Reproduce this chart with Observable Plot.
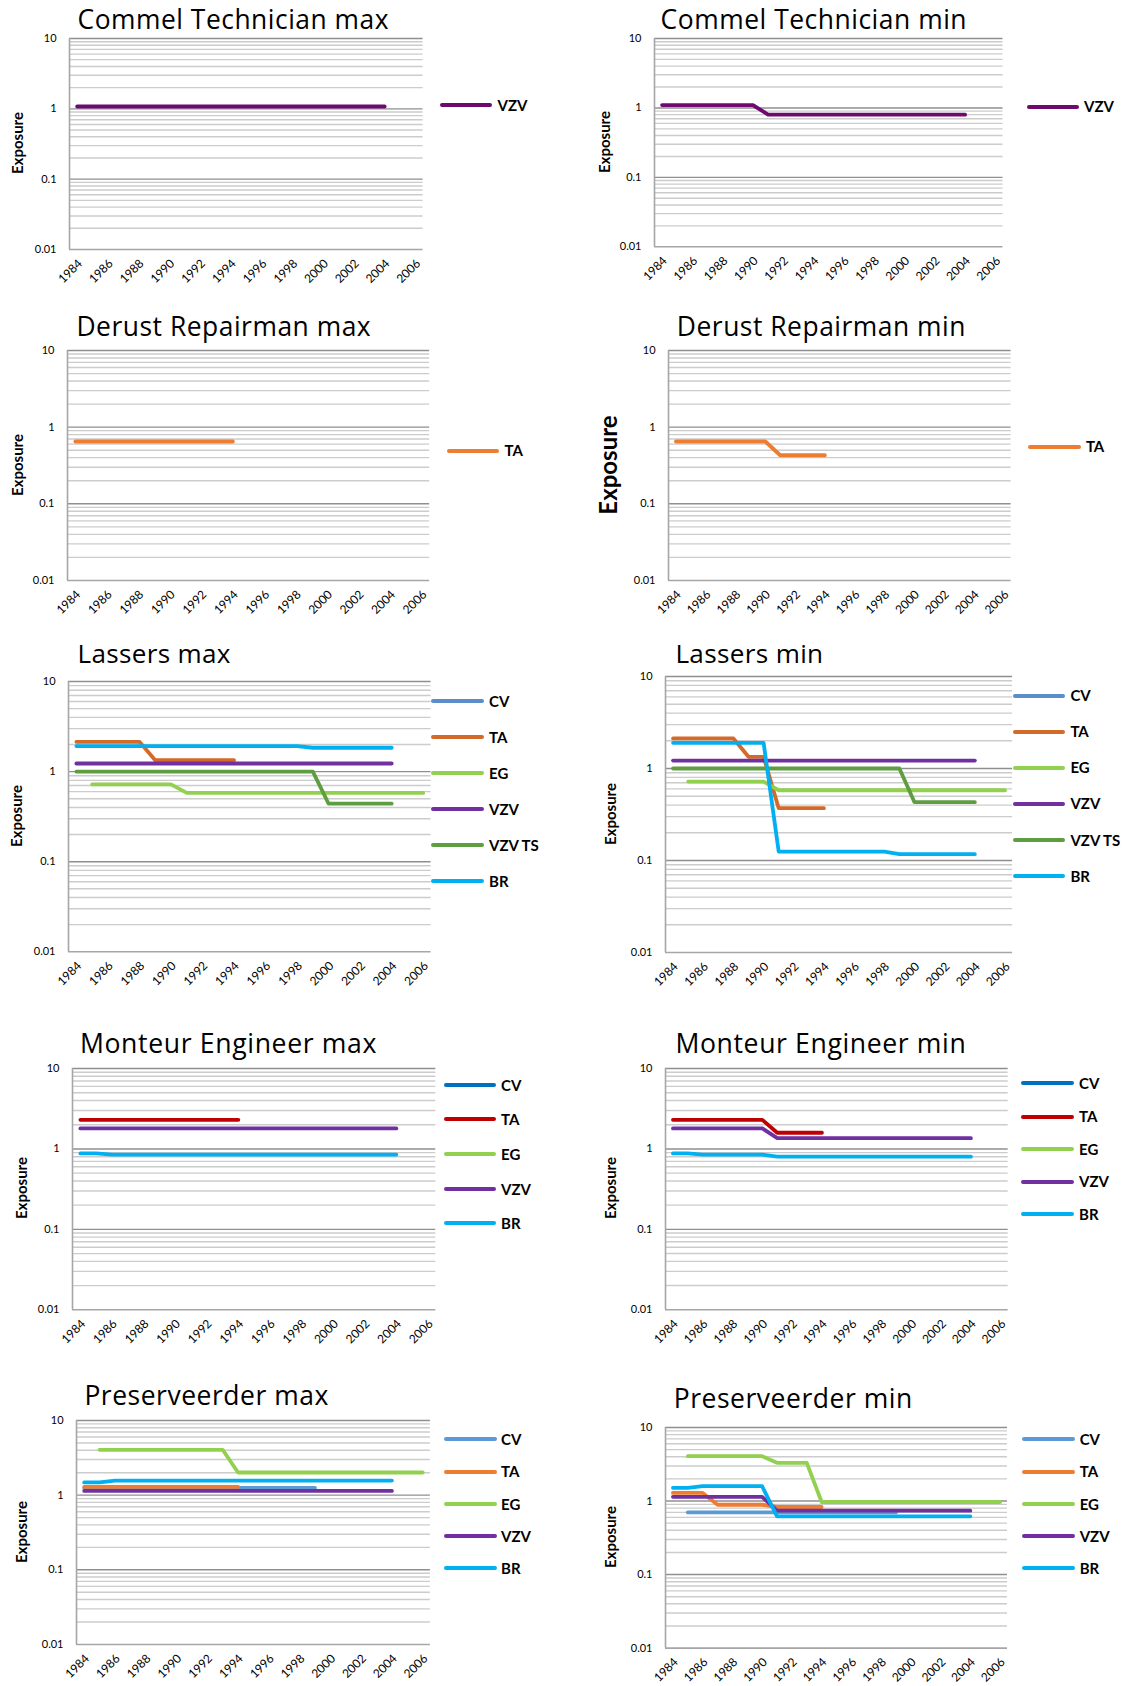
<!DOCTYPE html>
<html>
<head>
<meta charset="utf-8">
<script src="https://cdn.jsdelivr.net/npm/d3@7"></script>
<script src="https://cdn.jsdelivr.net/npm/@observablehq/plot@0.6"></script>
<style>
  html, body { margin: 0; padding: 0; background: #fff; }
  #page { position: relative; width: 1130px; height: 1686px; overflow: hidden; font-family: Lato, "Open Sans", sans-serif; }
  .abs { position: absolute; white-space: nowrap; line-height: 1.2; }
  .title { font-family: "Open Sans", Lato, sans-serif; color: #000; }
  .rot { position: absolute; width: 0; height: 0; }
  .rot span { position: absolute; white-space: nowrap; line-height: 1.2; font-weight: bold; transform: translate(-50%, -50%) rotate(-90deg); }
  .swatch { position: absolute; height: 4px; border-radius: 2px; }
  svg text { fill: #000; }
</style>
</head>
<body>
<div id="page"></div>
<script>
// ---------- data ----------
const seriesNames = ["CV", "TA", "EG", "VZV", "VZV TS", "BR"];
const yearTicks = [1984, 1986, 1988, 1990, 1992, 1994, 1996, 1998, 2000, 2002, 2004, 2006];
const yTicks = [0.01, 0.1, 1, 10];
const yMinorGrid = [0.02, 0.03, 0.04, 0.05, 0.06, 0.07, 0.08, 0.09, 0.2, 0.3, 0.4, 0.5, 0.6, 0.7, 0.8, 0.9, 2, 3, 4, 5, 6, 7, 8, 9];
const yMajorGrid = [0.1, 1, 10];

// [year, exposure] break points of each series (flat runs between them)
const commelMaxVZV = [[1984, 1.08], [2004, 1.08]];
const commelMinVZV = [[1984, 1.1], [1990, 1.1], [1991, 0.8], [2004, 0.8]];

const derustMaxTA = [[1984, 0.65], [1994, 0.65]];
const derustMinTA = [[1984, 0.65], [1990, 0.65], [1991, 0.43], [1994, 0.43]];

const lassersMaxTA = [[1984, 2.14], [1988, 2.14], [1989, 1.34], [1994, 1.34]];
const lassersMaxEG = [[1985, 0.72], [1990, 0.72], [1991, 0.58], [2006, 0.58]];
const lassersMaxVZV = [[1984, 1.23], [2004, 1.23]];
const lassersMaxVZVTS = [[1984, 1.0], [1999, 1.0], [2000, 0.44], [2004, 0.44]];
const lassersMaxBR = [[1984, 1.92], [1998, 1.92], [1999, 1.84], [2004, 1.84]];

const lassersMinTA = [[1984, 2.12], [1988, 2.12], [1989, 1.34], [1990, 1.34], [1991, 0.37], [1994, 0.37]];
const lassersMinEG = [[1985, 0.72], [1990, 0.72], [1991, 0.58], [2006, 0.58]];
const lassersMinVZV = [[1984, 1.22], [2004, 1.22]];
const lassersMinVZVTS = [[1984, 1.0], [1999, 1.0], [2000, 0.43], [2004, 0.43]];
const lassersMinBR = [[1984, 1.9], [1990, 1.9], [1991, 0.125], [1998, 0.125], [1999, 0.117], [2004, 0.117]];

const monteurMaxTA = [[1984, 2.3], [1994, 2.3]];
const monteurMaxVZV = [[1984, 1.8], [2004, 1.8]];
const monteurMaxBR = [[1984, 0.88], [1985, 0.88], [1986, 0.85], [2004, 0.85]];

const monteurMinTA = [[1984, 2.3], [1990, 2.3], [1991, 1.59], [1994, 1.59]];
const monteurMinVZV = [[1984, 1.8], [1990, 1.8], [1991, 1.36], [2004, 1.36]];
const monteurMinBR = [[1984, 0.88], [1985, 0.88], [1986, 0.85], [1990, 0.85], [1991, 0.8], [2004, 0.8]];

const preservMaxCV = [[1984, 1.25], [1999, 1.25]];
const preservMaxTA = [[1984, 1.29], [1994, 1.29]];
const preservMaxEG = [[1985, 4.05], [1993, 4.05], [1994, 2.01], [2006, 2.01]];
const preservMaxVZV = [[1984, 1.14], [2004, 1.14]];
const preservMaxBR = [[1984, 1.48], [1985, 1.48], [1986, 1.57], [2004, 1.57]];

const preservMinCV = [[1985, 0.7], [1999, 0.7]];
const preservMinTA = [[1984, 1.29], [1986, 1.29], [1987, 0.89], [1990, 0.89], [1991, 0.83], [1994, 0.83]];
const preservMinEG = [[1985, 4.07], [1990, 4.07], [1991, 3.31], [1993, 3.31], [1994, 0.97], [2006, 0.97]];
const preservMinVZV = [[1984, 1.14], [1990, 1.14], [1991, 0.74], [2004, 0.74]];
const preservMinBR = [[1984, 1.51], [1985, 1.51], [1986, 1.59], [1990, 1.59], [1991, 0.62], [2004, 0.62]];

// ---------- colours ----------
const coloursCommel = {VZV: "#6e0a6e"};
const coloursDerust = {TA: "#ed7d31"};
const coloursLassers = {CV: "#5b8ec8", TA: "#d46a2a", EG: "#92d050", VZV: "#7030a0", "VZV TS": "#5f9e40", BR: "#00b0f0"};
const coloursMonteur = {CV: "#0070c0", TA: "#c00000", EG: "#92d050", VZV: "#7030a0", BR: "#00b0f0"};
const coloursPreserv = {CV: "#5b9bd5", TA: "#ed7d31", EG: "#92d050", VZV: "#7030a0", BR: "#00b0f0"};

// ---------- panels (layout) ----------
const panels = [
  {title: "Commel Technician max", colours: coloursCommel, legend: ["VZV"],
   series: {VZV: commelMaxVZV},
   titleX: 77.5, titleW: 311.6, titleBase: 30.5, plot: [68.9, 37.7, 422.5, 248.7], expX: 17.2, expSize: 15,
   leg: [439.7, 492.4, 497.6], legY: [105]},
  {title: "Commel Technician min", colours: coloursCommel, legend: ["VZV"],
   series: {VZV: commelMinVZV},
   titleX: 660.6, titleW: 306.5, titleBase: 30.5, plot: [653.7, 37.7, 1002.2, 246], expX: 603.8, expSize: 15,
   leg: [1026.6, 1079.0, 1084.1], legY: [106.7]},
  {title: "Derust Repairman max", colours: coloursDerust, legend: ["TA"],
   series: {TA: derustMaxTA},
   titleX: 76.4, titleW: 294.8, titleBase: 336.7, plot: [66.5, 350, 428.7, 580], expX: 17.2, expSize: 15,
   leg: [446.6, 499.3, 504.5], legY: [450.7]},
  {title: "Derust Repairman min", colours: coloursDerust, legend: ["TA"],
   series: {TA: derustMinTA},
   titleX: 676.8, titleW: 289.2, titleBase: 336.7, plot: [667.5, 350, 1010.1, 580], expX: 607.5, expSize: 24,
   leg: [1028.0, 1080.7, 1085.9], legY: [446.7]},
  {title: "Lassers max", colours: coloursLassers, legend: ["CV", "TA", "EG", "VZV", "VZV TS", "BR"],
   series: {TA: lassersMaxTA, EG: lassersMaxEG, VZV: lassersMaxVZV, "VZV TS": lassersMaxVZVTS, BR: lassersMaxBR},
   titleX: 77.5, titleW: 153.2, titleBase: 663.3, plot: [67.8, 680.7, 430.4, 951], expX: 15.5, expSize: 15,
   leg: [431.1, 483.8, 489.0], legY: [701, 737.3, 773.3, 809.3, 845.3, 881.3]},
  {title: "Lassers min", colours: coloursLassers, legend: ["CV", "TA", "EG", "VZV", "VZV TS", "BR"],
   series: {TA: lassersMinTA, EG: lassersMinEG, VZV: lassersMinVZV, "VZV TS": lassersMinVZVTS, BR: lassersMinBR},
   titleX: 675.4, titleW: 148.1, titleBase: 663.3, plot: [664.7, 675.7, 1011.8, 951.7], expX: 609.6, expSize: 15,
   leg: [1012.5, 1065.2, 1070.4], legY: [695.7, 731.7, 767.7, 803.7, 840, 876]},
  {title: "Monteur Engineer max", colours: coloursMonteur, legend: ["CV", "TA", "EG", "VZV", "BR"],
   series: {TA: monteurMaxTA, VZV: monteurMaxVZV, BR: monteurMaxBR},
   titleX: 79.9, titleW: 297.2, titleBase: 1054.3, plot: [72.3, 1067.7, 435.6, 1309], expX: 20.7, expSize: 15,
   leg: [443.5, 495.9, 501.0], legY: [1085, 1119.3, 1154.3, 1189, 1223.3]},
  {title: "Monteur Engineer min", colours: coloursMonteur, legend: ["CV", "TA", "EG", "VZV", "BR"],
   series: {TA: monteurMinTA, VZV: monteurMinVZV, BR: monteurMinBR},
   titleX: 675.4, titleW: 291.0, titleBase: 1054.3, plot: [664.7, 1067.7, 1007.4, 1309], expX: 609.6, expSize: 15,
   leg: [1021.1, 1073.8, 1079.0], legY: [1083.3, 1116.7, 1149, 1181.7, 1214]},
  {title: "Preserveerder max", colours: coloursPreserv, legend: ["CV", "TA", "EG", "VZV", "BR"],
   series: {CV: preservMaxCV, TA: preservMaxTA, EG: preservMaxEG, VZV: preservMaxVZV, BR: preservMaxBR},
   titleX: 84.4, titleW: 244.5, titleBase: 1406, plot: [75.8, 1420, 429.7, 1644], expX: 20.7, expSize: 15,
   leg: [443.5, 496.6, 501.0], legY: [1439.3, 1471.7, 1504, 1536, 1568.3]},
  {title: "Preserveerder min", colours: coloursPreserv, legend: ["CV", "TA", "EG", "VZV", "BR"],
   series: {CV: preservMinCV, TA: preservMinTA, EG: preservMinEG, VZV: preservMinVZV, BR: preservMinBR},
   titleX: 673.7, titleW: 239.0, titleBase: 1409.3, plot: [664.7, 1426.7, 1006.7, 1647.3], expX: 609.6, expSize: 15,
   leg: [1021.5, 1074.5, 1079.7], legY: [1439.3, 1471.7, 1504, 1536, 1568.3]}
];

// ---------- drawing ----------
const page = document.getElementById("page");
const ASC = 0.987, CAP = 0.7165;
const TITLE_SIZE = 25.5, LEG_SIZE = 15;

function addText(x, baseline, text, size, weight, cls) {
  const d = document.createElement("div");
  d.className = "abs" + (cls ? " " + cls : "");
  d.textContent = text;
  d.style.left = x + "px";
  d.style.top = (baseline - ASC * size) + "px";
  d.style.fontSize = size + "px";
  d.style.fontWeight = weight;
  page.appendChild(d);
  return d;
}

for (const p of panels) {
  const [L, T, R, B] = p.plot;
  const mL = 60, mT = 8, mR = 8, mB = 55;
  const rows = [];
  for (const name of seriesNames) {
    const vals = p.series[name];
    if (!vals) continue;
    for (const [year, value] of vals) rows.push({series: name, year, value});
  }
  const names = Object.keys(p.colours);
  const chart = Plot.plot({
    width: (R - L) + mL + mR,
    height: (B - T) + mT + mB,
    marginLeft: mL, marginTop: mT, marginRight: mR, marginBottom: mB,
    style: {fontFamily: "Lato, 'Open Sans', sans-serif", fontSize: "11px", color: "#000", background: "transparent", overflow: "visible"},
    x: {domain: [1983.5, 2006.5]},
    y: {type: "log", domain: [0.01, 10]},
    color: {domain: names, range: names.map(n => p.colours[n])},
    marks: [
      Plot.ruleY(yMinorGrid, {stroke: "#cccccc", strokeWidth: 1.4}),
      Plot.ruleY(yMajorGrid, {stroke: "#8f8f8f", strokeWidth: 1.4}),
      Plot.ruleY([0.01], {stroke: "#a6a6a6", strokeWidth: 1.6}),
      Plot.ruleX([1983.5], {stroke: "#a6a6a6", strokeWidth: 1.6}),
      Plot.line(rows, {x: "year", y: "value", z: "series", stroke: "series", strokeWidth: 3.8, strokeLinecap: "round", strokeLinejoin: "round"}),
      Plot.axisX(yearTicks, {tickFormat: d => String(d), tickRotate: -45, tickSize: 0, tickPadding: 12, dx: 3, fontSize: 12, label: null}),
      Plot.axisY(yTicks, {tickFormat: d => String(d), tickSize: 0, tickPadding: 13, fontSize: 11, label: null})
    ]
  });
  const holder = document.createElement("div");
  holder.style.position = "absolute";
  holder.style.left = (L - mL) + "px";
  holder.style.top = (T - mT) + "px";
  holder.appendChild(chart);
  page.appendChild(holder);

  // title: size and spacing shared to reach the reference width
  const t = addText(p.titleX, p.titleBase, p.title, TITLE_SIZE, "normal", "title");
  const w0 = t.getBoundingClientRect().width;
  const size = TITLE_SIZE * Math.sqrt(p.titleW / w0);
  t.style.fontSize = size + "px";
  t.style.top = (p.titleBase - ASC * size) + "px";
  const w1 = t.getBoundingClientRect().width;
  t.style.letterSpacing = ((p.titleW - w1) / p.title.length) + "px";

  // y label
  const rot = document.createElement("div");
  rot.className = "rot";
  rot.style.left = p.expX + "px";
  rot.style.top = ((T + B) / 2) + "px";
  const sp = document.createElement("span");
  sp.textContent = "Exposure";
  sp.style.fontSize = p.expSize + "px";
  rot.appendChild(sp);
  page.appendChild(rot);

  // legend
  const [x1, x2, tx] = p.leg;
  p.legend.forEach((name, i) => {
    const y = p.legY[i];
    const sw = document.createElement("div");
    sw.className = "swatch";
    sw.style.left = x1 + "px";
    sw.style.width = (x2 - x1) + "px";
    sw.style.top = (y - 2) + "px";
    sw.style.background = p.colours[name];
    page.appendChild(sw);
    addText(tx, y + CAP * LEG_SIZE / 2, name, LEG_SIZE, "bold");
  });
}
</script>
</body>
</html>
